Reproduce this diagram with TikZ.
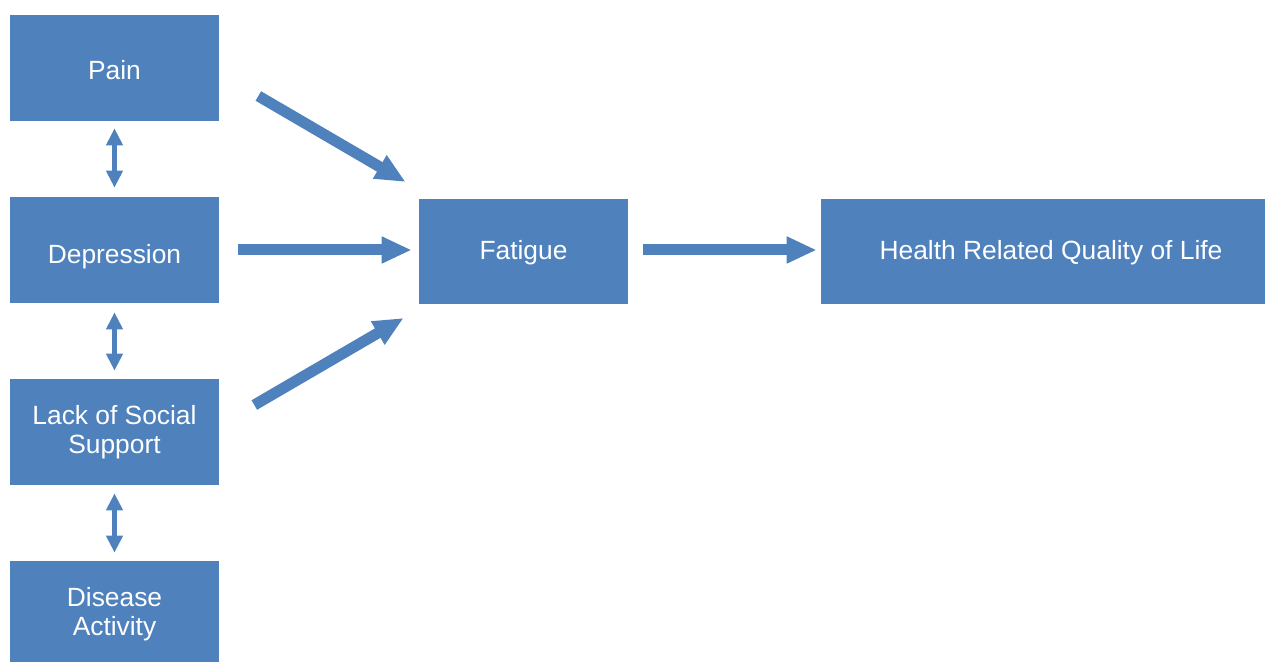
\documentclass[tikz,border=0pt]{standalone}
\usepackage{fontspec}
\setmainfont{Liberation Sans}
\usepackage{tikz}
\usetikzlibrary{arrows.meta}
\definecolor{boxblue}{RGB}{79,129,189}
\tikzstyle{factor}=[rectangle, fill=boxblue, text=white, inner sep=0pt,
    minimum width=4.18cm, minimum height=2.12cm, align=center,
    font=\fontsize{15}{16.6}\selectfont]
\tikzstyle{oneline}=[factor, text height=12.3pt, text depth=3pt]
\tikzstyle{bigarrow}=[draw=boxblue, line width=0.22cm,
    -{Triangle[width=0.5cm, length=0.6cm]}]
\tikzstyle{linkarrow}=[draw=boxblue, line width=0.1cm,
    {Triangle[width=0.32cm, length=0.34cm]}-{Triangle[width=0.32cm, length=0.34cm]}]

\begin{document}
\begin{tikzpicture}[x=0.02cm, y=-0.02cm]
          \path[use as bounding box, clip] (0,0) rectangle (1265,662);
          \node[oneline, text height=16.6pt] (pain) at (114.5,68){Pain};
          \node[oneline, text height=18.9pt] (depr) at (114.5,250){Depression};
          \node[factor] (social) at (114.5,432){Lack of Social\\Support};
          \node[factor] (disease) at (114.5,614){Disease\\Activity};
          \node[oneline] (fatigue) at (523.5,251.5){Fatigue};
          \node[oneline, minimum width=9.2cm] (hrqol) at (1051,251.5){Health Related Quality of Life};
          \draw[linkarrow]([shift={(0,7)}]pain.south) -- ([shift={(0,-9)}]depr.north);
          \draw[linkarrow]([shift={(0,9)}]depr.south) -- ([shift={(0,-8)}]social.north);
          \draw[linkarrow]([shift={(0,8)}]social.south) -- ([shift={(0,-8)}]disease.north);
          \draw[bigarrow]([shift={(39,28)}]pain.east) -- ([shift={(-13,-69.5)}]fatigue.west);
          \draw[bigarrow]([shift={(19,0)}]depr.east) -- ([shift={(-7,-1.5)}]fatigue.west);
          \draw[bigarrow]([shift={(35,-27)}]social.east) -- ([shift={(-15,66.5)}]fatigue.west);
          \draw[bigarrow]([shift={(15,-1.5)}]fatigue.east) -- ([shift={(-4,-1.5)}]hrqol.west);
        \end{tikzpicture}
\end{document}
